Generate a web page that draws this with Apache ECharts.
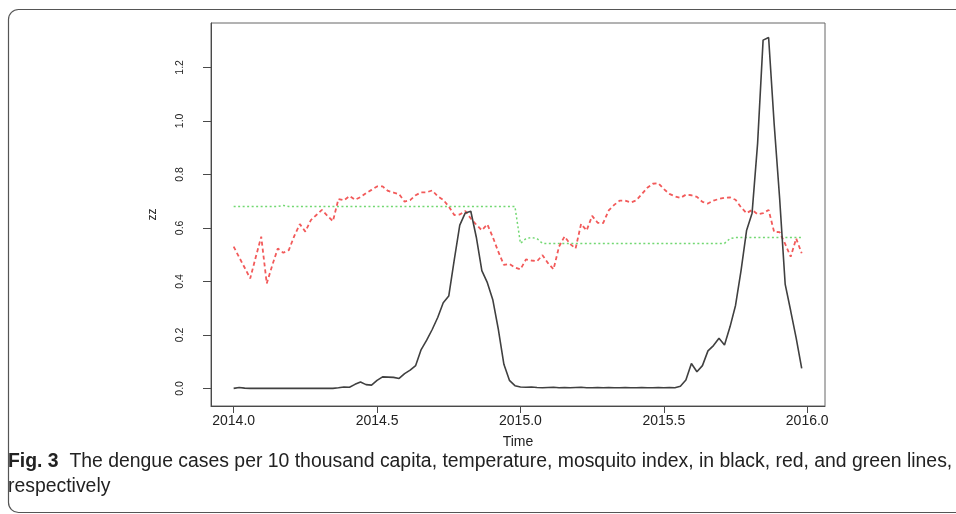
<!DOCTYPE html>
<html>
<head>
<meta charset="utf-8">
<script src="https://cdn.jsdelivr.net/npm/echarts@6/dist/echarts.min.js"></script>
<style>
html,body{margin:0;padding:0;background:#fff;}
#chart{width:956px;height:514px;}
</style>
</head>
<body>
<div id="chart"></div>
<script>
// Weekly series, starting 2014.0, 52 weeks per year
const startYear = 2014;
const weeksPerYear = 52;

const dengue = [
  0.000,0.003,0.001,0.000,0.000,0.000,0.000,0.000,0.000,0.000,
  0.000,0.000,0.000,0.000,0.000,0.000,0.000,0.000,0.000,0.002,
  0.005,0.004,0.015,0.024,0.014,0.012,0.030,0.043,0.042,0.041,
  0.037,0.055,0.068,0.085,0.145,0.180,0.220,0.265,0.320,0.345,
  0.480,0.610,0.656,0.662,0.565,0.440,0.395,0.330,0.220,0.090,
  0.030,0.010,0.005,0.004,0.005,0.003,0.002,0.003,0.004,0.002,
  0.003,0.002,0.003,0.004,0.002,0.002,0.003,0.002,0.003,0.002,
  0.002,0.003,0.002,0.002,0.003,0.002,0.002,0.003,0.002,0.003,
  0.002,0.008,0.031,0.093,0.062,0.085,0.140,0.160,0.187,0.162,
  0.230,0.310,0.440,0.590,0.655,0.915,1.302,1.312,0.990,0.710,
  0.390,0.290,0.188,0.075
];

const temperature = [
  0.530,0.490,0.451,0.411,0.490,0.567,0.392,0.460,0.523,0.507,
  0.517,0.570,0.614,0.586,0.629,0.648,0.667,0.645,0.625,0.708,
  0.703,0.719,0.705,0.715,0.730,0.742,0.755,0.755,0.738,0.732,
  0.726,0.698,0.704,0.722,0.733,0.733,0.740,0.718,0.705,0.680,
  0.648,0.650,0.663,0.635,0.612,0.591,0.613,0.565,0.510,0.462,
  0.465,0.452,0.445,0.482,0.478,0.475,0.498,0.468,0.445,0.530,
  0.568,0.540,0.523,0.615,0.590,0.645,0.619,0.618,0.665,0.686,
  0.702,0.702,0.695,0.703,0.726,0.750,0.765,0.767,0.745,0.727,
  0.718,0.712,0.724,0.722,0.716,0.697,0.691,0.702,0.708,0.713,
  0.714,0.705,0.677,0.655,0.667,0.651,0.655,0.667,0.585,0.584,
  0.540,0.492,0.560,0.505
];

const mosquito = [
  0.680,0.680,0.680,0.680,0.680,0.680,0.680,0.680,0.680,0.684,
  0.680,0.680,0.680,0.680,0.680,0.680,0.680,0.680,0.680,0.680,
  0.680,0.680,0.680,0.680,0.680,0.680,0.680,0.680,0.680,0.680,
  0.680,0.680,0.680,0.680,0.680,0.680,0.680,0.680,0.680,0.680,
  0.680,0.680,0.680,0.680,0.680,0.680,0.680,0.680,0.680,0.680,
  0.680,0.680,0.542,0.560,0.564,0.560,0.542,0.542,0.542,0.542,
  0.542,0.542,0.542,0.542,0.542,0.542,0.542,0.542,0.542,0.542,
  0.542,0.542,0.542,0.542,0.542,0.542,0.542,0.542,0.542,0.542,
  0.542,0.542,0.542,0.542,0.542,0.542,0.542,0.542,0.542,0.542,
  0.560,0.564,0.564,0.564,0.564,0.564,0.564,0.564,0.564,0.564,
  0.564,0.564,0.564,0.564
];

const xTicks = [2014.0, 2014.5, 2015.0, 2015.5, 2016.0];
const yTicks = [0.0, 0.2, 0.4, 0.6, 0.8, 1.0, 1.2];
const xAxisTitle = 'Time';
const yAxisTitle = 'zz';
const captionBold = 'Fig. 3';
const captionText = '  The dengue cases per 10 thousand capita, temperature, mosquito index, in black, red, and green lines,';
const captionText2 = 'respectively';

function toPairs(arr) {
  return arr.map((v, i) => [startYear + i / weeksPerYear, v]);
}

const axisColor = '#4a4a4a';
const tickFont = 'Liberation Sans, Arial, sans-serif';
const capFont = 'Liberation Sans, Arial, sans-serif';

const chart = echarts.init(document.getElementById('chart'), null, {renderer: 'canvas'});
chart.setOption({
  animation: false,
  backgroundColor: '#ffffff',
  grid: {
    left: 211, right: 131, top: 23, bottom: 108,
    show: true, borderColor: '#666', borderWidth: 1, backgroundColor: 'transparent'
  },
  xAxis: {
    type: 'value',
    min: 2013.921, max: 2016.062,
    splitLine: {show: false},
    axisLine: {show: true, onZero: false, lineStyle: {color: axisColor, width: 1}},
    axisTick: {show: true, length: 7, customValues: xTicks, lineStyle: {color: axisColor}},
    axisLabel: {
      customValues: xTicks, margin: 8,
      formatter: v => v.toFixed(1),
      color: '#222', fontSize: 14, fontFamily: tickFont
    },
    name: xAxisTitle, nameLocation: 'middle', nameGap: 29,
    nameTextStyle: {color: '#222', fontSize: 14, fontFamily: tickFont}
  },
  yAxis: {
    type: 'value',
    min: -0.066, max: 1.366,
    splitLine: {show: false},
    axisLine: {show: true, onZero: false, lineStyle: {color: axisColor, width: 1}},
    axisTick: {show: true, length: 8, customValues: yTicks, lineStyle: {color: axisColor}},
    axisLabel: {
      customValues: yTicks, margin: 25, rotate: 90,
      formatter: v => v.toFixed(1),
      color: '#222', fontSize: 10.5, fontFamily: tickFont
    },
    name: yAxisTitle, nameLocation: 'middle', nameGap: 52, nameRotate: 90,
    nameTextStyle: {color: '#222', fontSize: 12, fontFamily: tickFont}
  },
  series: [
    {
      name: 'dengue', type: 'line', data: toPairs(dengue), showSymbol: false,
      lineStyle: {color: '#404040', width: 1.6}, z: 3
    },
    {
      name: 'temperature', type: 'line', data: toPairs(temperature), showSymbol: false,
      lineStyle: {color: '#f25a5a', width: 1.8, type: [4, 3]}, z: 2
    },
    {
      name: 'mosquito', type: 'line', data: toPairs(mosquito), showSymbol: false,
      lineStyle: {color: '#72d872', width: 1.5, type: [2, 2.5]}, z: 1
    }
  ],
  graphic: [
    {
      type: 'rect', left: 6, top: 7, silent: true,
      shape: {width: 980, height: 503, r: 10},
      style: {fill: 'none', stroke: '#555', lineWidth: 1.2}
    },
    {
      type: 'text', left: 8, top: 452,
      style: {
        rich: {
          b: {fontWeight: 'bold', fontSize: 19.4, fontFamily: capFont, fill: '#222'},
          n: {fontSize: 19.4, fontFamily: capFont, fill: '#222'}
        },
        text: '{b|' + captionBold + '}{n|' + captionText + '}',
        fill: '#222'
      }
    },
    {
      type: 'text', left: 8, top: 477,
      style: {
        text: captionText2, fontSize: 19.4,
        fontFamily: capFont, fill: '#222'
      }
    }
  ]
});
</script>
</body>
</html>
